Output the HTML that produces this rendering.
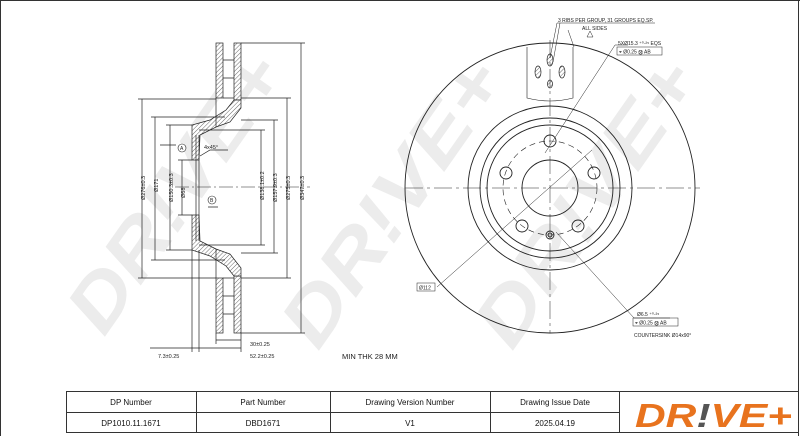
<!DOCTYPE html>
<html><head><meta charset="utf-8"><style>
html,body{margin:0;padding:0;background:#fff;}
svg{display:block;font-family:"Liberation Sans",sans-serif;}
</style></head><body>
<svg width="800" height="436" viewBox="0 0 800 436" xmlns="http://www.w3.org/2000/svg">
<defs>
<pattern id="h" width="3" height="3" patternUnits="userSpaceOnUse" patternTransform="rotate(45)">
<rect width="3" height="3" fill="#fff"/><line x1="0" y1="0" x2="0" y2="3" stroke="#444" stroke-width="0.8"/></pattern>
</defs>
<rect width="800" height="436" fill="#fff"/>
<!-- watermarks -->
<g fill="#ececec" font-weight="bold" font-size="74" font-style="italic">
<text transform="translate(104,338) rotate(-55)" textLength="320" lengthAdjust="spacingAndGlyphs">DR!VE+</text>
<text transform="translate(318,352) rotate(-55)" textLength="330" lengthAdjust="spacingAndGlyphs">DR!VE+</text>
<text transform="translate(512,352) rotate(-55)" textLength="330" lengthAdjust="spacingAndGlyphs">DR!VE+</text>
</g>
<!-- frame -->
<line x1="0.5" y1="0" x2="0.5" y2="436" stroke="#333"/>
<line x1="0" y1="0.5" x2="800" y2="0.5" stroke="#333"/>
<line x1="798.5" y1="0" x2="798.5" y2="436" stroke="#333"/>

<!-- LEFT SECTION -->
<g stroke="#222" stroke-width="0.7" fill="none">
<rect x="216" y="43" width="7" height="55" fill="url(#h)"/>
<rect x="234" y="43" width="7" height="57" fill="url(#h)"/>
<rect x="216" y="278" width="7" height="55" fill="url(#h)"/>
<rect x="234" y="276" width="7" height="57" fill="url(#h)"/>
<path d="M223 60H234M223 78H234M223 98H234M223 296H234M223 314H234M223 278H234"/>
<polygon points="234,100 241,100 241,108 230,122 216,127 200,135 199,160 192,160 192,125 210,120 226,110" fill="url(#h)"/>
<polygon points="234,276 241,276 241,268 230,254 216,249 200,241 199,215 192,215 192,250 210,256 226,266" fill="url(#h)"/>
<path d="M199 135V241M196 135V241"/>
<path d="M216 98V127M216 249V278"/>
<path d="M138 99H216M151 117H225M166 125H192M178 160H192M178 215H192M199 130H265M199 245H265M241 120H278M241 253H278M241 98H291M241 278H291M241 43H305M241 333H305M166 250H192M151 260H225M138 278H216"/>
<path d="M142 99V278M155 117V260M170 125V250M182 160V215M261 130V245M274 120V253M287 98V278M301 43V333"/>
<path d="M192 250V352M199 250V352M216 333V344M241 333V352M216 340H241M192 348H241M150 348H192" />
<path d="M160 145H176M208 207H218"/>
<path d="M200 156L210 150H228"/>
</g>
<path d="M175 187H310" stroke="#222" stroke-width="0.6" stroke-dasharray="14,3,2,3"/>
<g fill="#222" font-size="5.5">
<text transform="translate(145,200) rotate(-90)">Ø276±0.3</text>
<text transform="translate(158,192) rotate(-90)">Ø171</text>
<text transform="translate(173,202) rotate(-90)">Ø150.3±0.3</text>
<text transform="translate(185,198) rotate(-90)">Ø68</text>
<text transform="translate(264,200) rotate(-90)">Ø138.1±0.2</text>
<text transform="translate(277,202) rotate(-90)">Ø157.9±0.3</text>
<text transform="translate(290,200) rotate(-90)">Ø275±0.3</text>
<text transform="translate(304,200) rotate(-90)">Ø347±0.3</text>
<text x="204" y="149">4x45°</text>
<text x="250" y="346">30±0.25</text>
<text x="158" y="358">7.3±0.25</text>
<text x="250" y="358">52.2±0.25</text>
</g>
<circle cx="182" cy="148" r="4" fill="#fff" stroke="#222" stroke-width="0.6"/>
<text x="180" y="150" font-size="5" fill="#222">A</text>
<circle cx="212" cy="200" r="4" fill="#fff" stroke="#222" stroke-width="0.6"/>
<text x="210" y="202" font-size="5" fill="#222">B</text>
<text x="342" y="359" font-size="7.5" fill="#222">MIN THK 28 MM</text>

<!-- RIGHT DISC -->
<g stroke="#222" stroke-width="0.9" fill="none">
<circle cx="550" cy="188" r="145"/>
<circle cx="550" cy="188" r="82"/>
<circle cx="550" cy="188" r="70"/>
<circle cx="550" cy="188" r="63"/>
<circle cx="550" cy="188" r="28"/>
<circle cx="550" cy="188" r="47" stroke-dasharray="6,4" stroke-width="0.6"/>
<circle cx="550" cy="141" r="6"/>
<circle cx="506" cy="173" r="6"/>
<circle cx="594" cy="173" r="6"/>
<circle cx="522" cy="226" r="6"/>
<circle cx="578" cy="226" r="6"/>
<circle cx="550" cy="235" r="4"/><circle cx="550" cy="235" r="2"/>
<path d="M527 47V98Q550 104 573 98V47" stroke-width="0.6"/>
<g stroke-width="0.7" fill="url(#h)">
<ellipse cx="550" cy="60" rx="3" ry="6"/>
<ellipse cx="538" cy="72" rx="3" ry="6"/>
<ellipse cx="562" cy="72" rx="3" ry="6"/>
<ellipse cx="550" cy="84" rx="2.5" ry="4"/>
</g>
</g>
<g stroke="#222" stroke-width="0.5" fill="none">
<path d="M405 188H700" stroke-dasharray="18,4,3,4"/>
<path d="M550 40V333" stroke-dasharray="18,4,3,4"/>
<path d="M437 287L592 150M556 232L634 318H670M545 153L615 45H628M550 58L557 23H655M553 62L560 23M574 47L568 30"/>
<path d="M587 37L590 31L593 37Z"/>
<rect x="417" y="283" width="18" height="8"/>
<rect x="617" y="47" width="45" height="8"/>
<rect x="633" y="318" width="45" height="8"/>
</g>
<g fill="#222" font-size="5">
<text x="558" y="22">3 RIBS PER GROUP, 31 GROUPS EQ.SP.</text>
<text x="582" y="30">ALL SIDES</text>
<text x="618" y="45">5XØ15.3 ⁺⁰·²⁵ EQS</text>
<text x="619" y="53.5">⌖ Ø0.25 Ⓜ AB</text>
<text x="419" y="289.5">Ø112</text>
<text x="637" y="316">Ø6.5 ⁺⁰·²⁵</text>
<text x="635" y="324.5">⌖ Ø0.25 Ⓜ AB</text>
<text x="634" y="337">COUNTERSINK Ø14x90°</text>
</g>

<!-- TABLE -->
<g stroke="#333" stroke-width="1" fill="none">
<path d="M66 391.5H798M66 412.5H619M66 432.5H798"/>
<path d="M66.5 391V433M196.5 391V433M330.5 391V433M490.5 391V433M619.5 391V433"/>
</g>
<g fill="#111" font-size="8" text-anchor="middle">
<text x="131" y="405">DP Number</text>
<text x="263" y="405">Part Number</text>
<text x="410" y="405">Drawing Version Number</text>
<text x="555" y="405">Drawing Issue Date</text>
<text x="131" y="426">DP1010.11.1671</text>
<text x="263" y="426">DBD1671</text>
<text x="410" y="426">V1</text>
<text x="555" y="426">2025.04.19</text>
</g>
<text x="635" y="427" font-size="33" font-weight="bold" font-style="italic" fill="#e8731e" textLength="157" lengthAdjust="spacingAndGlyphs">DR<tspan fill="#555">!</tspan>VE+</text>
</svg>
</body></html>
